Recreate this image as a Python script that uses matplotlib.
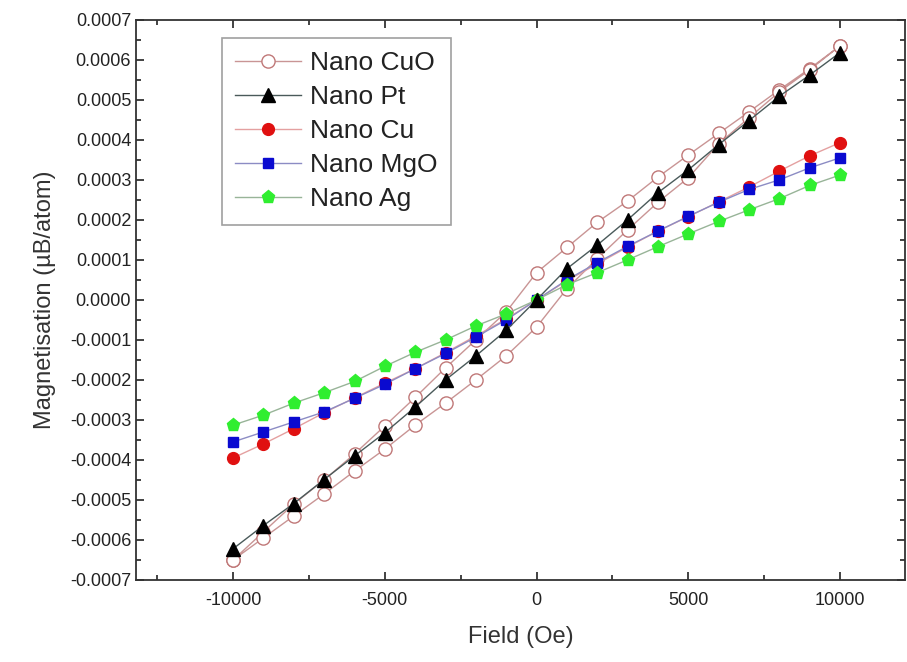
import numpy as np
import matplotlib
matplotlib.use('Agg')
import matplotlib.pyplot as plt
from matplotlib.ticker import MultipleLocator, FormatStrFormatter

# field steps (Oe)
field = [-10000, -9000, -8000, -7000, -6000, -5000, -4000, -3000, -2000, -1000, 0,
         1000, 2000, 3000, 4000, 5000, 6000, 7000, 8000, 9000, 10000]

# Nano CuO: hysteresis loop, upper and lower branch (listed from -10000 to 10000)
cuo_upper = [-0.00065, -0.00058, -0.00051, -0.00045, -0.000385, -0.000315, -0.000244,
             -0.00017, -0.0001, -0.00003, 0.000068, 0.000131, 0.000194, 0.000247,
             0.000307, 0.000362, 0.000416, 0.00047, 0.000525, 0.000578, 0.000635]
cuo_lower = [-0.00065, -0.000595, -0.00054, -0.000485, -0.000428, -0.000373, -0.000313,
             -0.000258, -0.0002, -0.00014, -0.000068, 0.000028, 0.000103, 0.000175,
             0.000244, 0.000305, 0.00039, 0.000455, 0.00052, 0.000575, 0.000635]
pt = [-0.000622, -0.000564, -0.000509, -0.000449, -0.00039, -0.000332, -0.000268,
      -0.0002, -0.00014, -0.000076, 0.0, 0.000078, 0.000137, 0.0002, 0.000268,
      0.000325, 0.000388, 0.000448, 0.000509, 0.000562, 0.000618]
cu = [-0.000395, -0.00036, -0.000322, -0.000282, -0.000245, -0.000208, -0.000172,
      -0.000132, -0.00009, -0.000048, 0.0, 0.000048, 0.00009, 0.000132, 0.000172,
      0.000208, 0.000245, 0.000282, 0.000322, 0.00036, 0.000393]
mgo = [-0.000355, -0.00033, -0.000305, -0.00028, -0.000246, -0.000211, -0.000172,
       -0.000134, -0.000093, -0.00005, 0.0, 0.00005, 0.000093, 0.000134, 0.000172,
       0.000209, 0.000244, 0.000276, 0.0003, 0.00033, 0.000355]
ag = [-0.000313, -0.000288, -0.000258, -0.000232, -0.000204, -0.000166, -0.000131,
      -0.0001, -0.000065, -0.000035, 0.0, 0.000038, 0.000068, 0.0001, 0.000133,
      0.000165, 0.000196, 0.000225, 0.000253, 0.000286, 0.000312]

plt.rcParams['font.family'] = ['Liberation Sans', 'DejaVu Sans']
plt.rcParams['axes.unicode_minus'] = False

fig = plt.figure(figsize=(9.07, 6.62), dpi=100)
ax = fig.add_axes([0.15, 0.124, 0.848, 0.846])

# CuO loop: go down the upper branch, then back up the lower one
loop_x = field[::-1] + field
loop_y = cuo_upper[::-1] + cuo_lower
ax.plot(loop_x, loop_y, color='#c99595', lw=1, marker='o', ms=9.5,
        mfc='white', mec='#c07878', mew=1, label='Nano CuO', zorder=3)
ax.plot(field, pt, color='#4a5a5a', lw=1, marker='^', ms=9.5,
        mfc='black', mec='black', label='Nano Pt', zorder=4)
ax.plot(field, cu, color='#e4a0a0', lw=1, marker='o', ms=8.5,
        mfc='#e01010', mec='#e01010', label='Nano Cu', zorder=3)
ax.plot(field, mgo, color='#8c8cc4', lw=1, marker='s', ms=7.5,
        mfc='#0a0ad0', mec='#0a0ad0', label='Nano MgO', zorder=3)
ax.plot(field, ag, color='#98b498', lw=1, marker='p', ms=9.5,
        mfc='#30ee30', mec='#30ee30', label='Nano Ag', zorder=3)

ax.set_xlim(-13200, 12150)
ax.set_ylim(-0.0007, 0.0007)
ax.xaxis.set_major_locator(MultipleLocator(5000))
ax.xaxis.set_minor_locator(MultipleLocator(2500))
ax.yaxis.set_major_locator(MultipleLocator(0.0001))
ax.yaxis.set_minor_locator(MultipleLocator(0.00005))
ax.yaxis.set_major_formatter(FormatStrFormatter('%.4f'))
ax.tick_params(which='both', direction='in', top=True, right=True, labelsize=13,
               colors='#222222', width=1.2)
ax.tick_params(which='major', length=6)
ax.tick_params(which='minor', length=3.5)
ax.tick_params(axis='x', pad=9)
for s in ax.spines.values():
    s.set_linewidth(1.3)
    s.set_color('#333333')

ax.set_xlabel('Field (Oe)', fontsize=17, color='#333333', labelpad=12)
ax.set_ylabel('Magnetisation (\u00b5B/atom)', fontsize=17, color='#333333', labelpad=10)

leg = ax.legend(loc='upper left', bbox_to_anchor=(222 / 907, 1 - 38 / 662),
                bbox_transform=fig.transFigure, borderaxespad=0, fontsize=19,
                frameon=True, fancybox=False, edgecolor='#888888', handlelength=2.5,
                labelspacing=0.38, borderpad=0.5, handletextpad=0.35)
leg.get_frame().set_linewidth(1.2)
for t in leg.get_texts():
    t.set_color('#222222')

fig.savefig('out.png', dpi=100)
